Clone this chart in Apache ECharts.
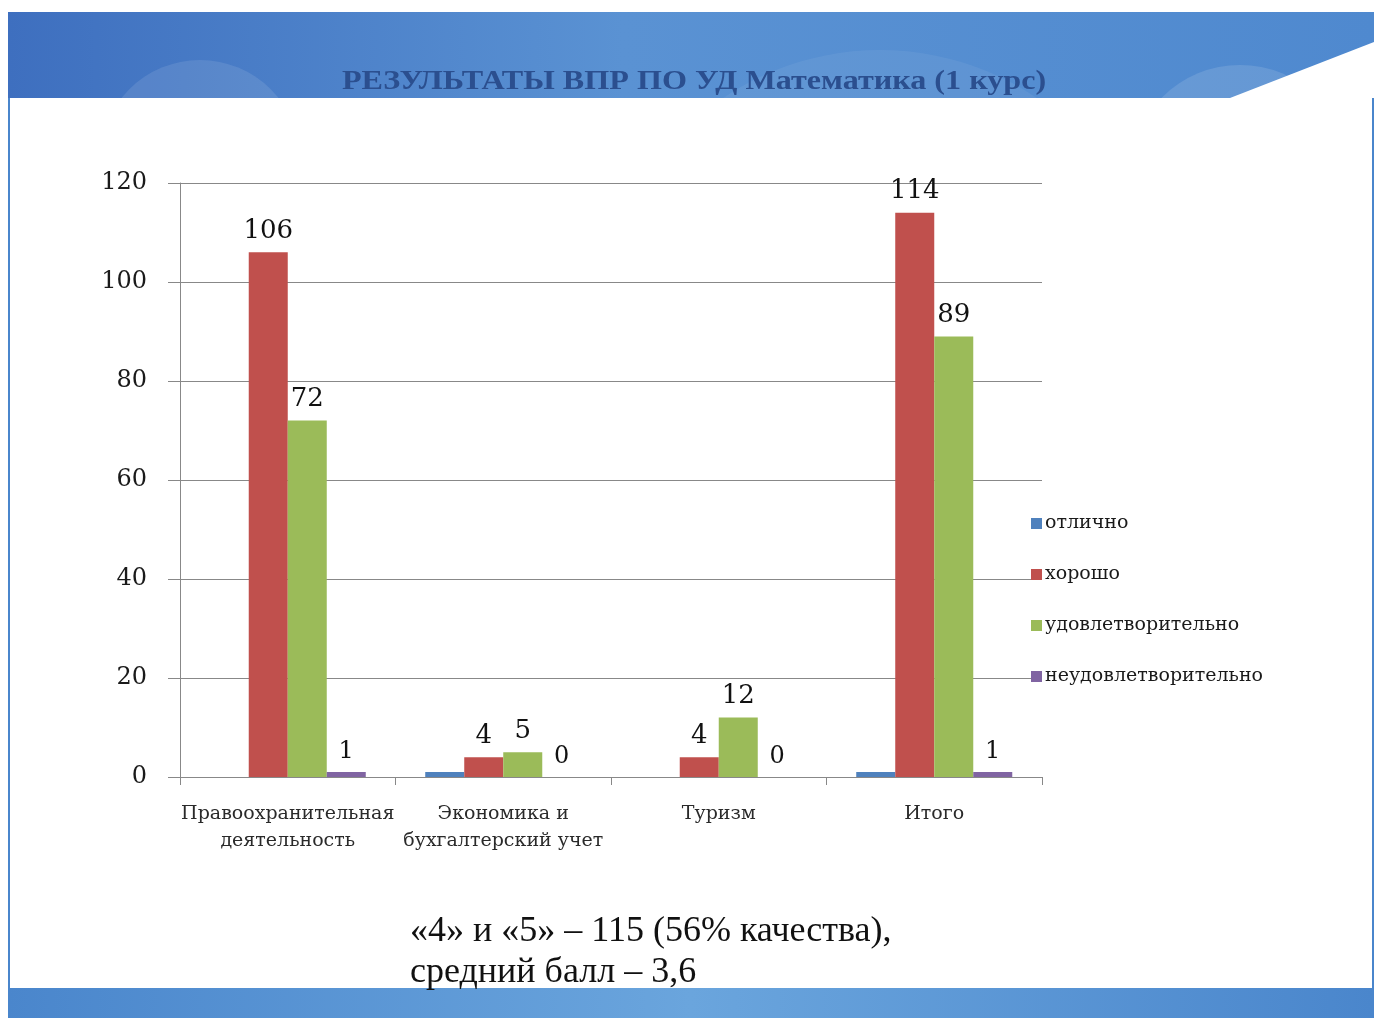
<!DOCTYPE html>
<html><head><meta charset="utf-8">
<script src="https://cdn.jsdelivr.net/npm/echarts@6/dist/echarts.min.js"></script>
<style>html,body{margin:0;padding:0;background:#fff}#c{width:1381px;height:1018px}</style>
</head><body><div id="c"></div>
<script>
const categories = ['Правоохранительная\nдеятельность', 'Экономика и\nбухгалтерский учет', 'Туризм', 'Итого'];
const seriesNames = ['отлично', 'хорошо', 'удовлетворительно', 'неудовлетворительно'];
const excellent = [null, 1, null, 1];
const good = [106, 4, 4, 114];
const satisfactory = [72, 5, 12, 89];
const unsatisfactory = [1, 0, 0, 1];
const yTicks = [0, 20, 40, 60, 80, 100, 120];
const titleText = 'РЕЗУЛЬТАТЫ ВПР ПО УД Математика (1 курс)';
const noteLine1 = '«4» и «5» – 115 (56% качества),';
const noteLine2 = 'средний балл – 3,6';

const colors = ['#4f81bd', '#c0504d', '#9bbb59', '#8064a2'];
const serif = '"Liberation Serif", "DejaVu Serif", serif';
const dserif = '"DejaVu Serif", "Liberation Serif", serif';
const labelStyle = { show: true, position: 'top', distance: 8, color: '#111', fontFamily: dserif, fontSize: 26 };

const chart = echarts.init(document.getElementById('c'), null, { renderer: 'canvas' });
chart.setOption({
  animation: false,
  backgroundColor: '#fff',
  color: colors,
  grid: { left: 180, right: 339, top: 183, bottom: 241 },
  legend: {
    orient: 'vertical', left: 1031, top: 514, padding: 0,
    icon: 'rect', itemWidth: 11, itemHeight: 11, itemGap: 32,
    textStyle: { fontFamily: dserif, fontSize: 19, color: '#1a1a1a', lineHeight: 19, padding: [0, 0, 0, -2] },
    data: seriesNames
  },
  xAxis: {
    type: 'category', data: categories,
    axisLine: { lineStyle: { color: '#888' } },
    axisTick: { show: true, length: 8, lineStyle: { color: '#888' } },
    axisLabel: { interval: 0, fontFamily: dserif, fontSize: 19, color: '#2a2a2a', lineHeight: 27, margin: 24 }
  },
  yAxis: {
    type: 'value', min: 0, max: 120, interval: 20,
    axisLine: { show: true, lineStyle: { color: '#888' } },
    axisTick: { show: true, length: 12, lineStyle: { color: '#888' } },
    splitLine: { lineStyle: { color: '#888' } },
    axisLabel: { fontFamily: dserif, fontSize: 24, color: '#1a1a1a', margin: 33,
      formatter: v => yTicks.includes(v) ? String(v) : '' }
  },
  series: [
    { name: seriesNames[0], type: 'bar', data: excellent, barGap: '0%', barCategoryGap: '27.6%' },
    { name: seriesNames[1], type: 'bar', data: good, barGap: '0%', barCategoryGap: '27.6%', label: labelStyle },
    { name: seriesNames[2], type: 'bar', data: satisfactory, barGap: '0%', barCategoryGap: '27.6%', label: labelStyle },
    { name: seriesNames[3], type: 'bar', data: unsatisfactory, barGap: '0%', barCategoryGap: '27.6%', label: Object.assign({}, labelStyle, { fontSize: 24 }) }
  ],
  graphic: [
    { type: 'rect', z: -10, shape: { x: 8, y: 12, width: 1366, height: 86 },
      style: { fill: new echarts.graphic.LinearGradient(0, 0, 1, 0, [
        { offset: 0, color: '#3e6fbf' }, { offset: 0.45, color: '#5a92d3' }, { offset: 1, color: '#4f89cf' }]) } },
    { type: 'circle', z: -9, shape: { cx: 200, cy: 160, r: 100 }, style: { fill: 'rgba(255,255,255,0.10)' } },
    { type: 'circle', z: -9, shape: { cx: 1240, cy: 175, r: 110 }, style: { fill: 'rgba(255,255,255,0.12)' } },
    { type: 'circle', z: -9, shape: { cx: 880, cy: 330, r: 280 }, style: { fill: 'rgba(255,255,255,0.06)' } },
    { type: 'rect', z: -8, shape: { x: 8, y: 98, width: 1366, height: 890 }, style: { fill: '#fff' } },
    { type: 'polygon', z: -8, shape: { points: [[1230, 98], [1374, 42], [1374, 98]] }, style: { fill: '#fff' } },
    { type: 'rect', z: -7, shape: { x: 8, y: 98, width: 2, height: 890 }, style: { fill: '#4a86cc' } },
    { type: 'rect', z: -7, shape: { x: 1372, y: 98, width: 2, height: 890 }, style: { fill: '#4a86cc' } },
    { type: 'rect', z: -10, shape: { x: 8, y: 988, width: 1366, height: 30 },
      style: { fill: new echarts.graphic.LinearGradient(0, 0, 1, 0, [
        { offset: 0, color: '#4a86cc' }, { offset: 0.5, color: '#6aa5dd' }, { offset: 1, color: '#4a86cc' }]) } },
    { type: 'text', z: 5, x: 694, y: 82, scaleX: 1.19,
      style: { text: titleText, fontFamily: serif, fontWeight: 'bold', fontSize: 27, fill: '#2b4f8f',
        align: 'center', verticalAlign: 'middle' } },
    { type: 'text', z: 5, x: 410, y: 932,
      style: { text: noteLine1, fontFamily: serif, fontSize: 36, fill: '#111', verticalAlign: 'middle' } },
    { type: 'text', z: 5, x: 410, y: 973,
      style: { text: noteLine2, fontFamily: serif, fontSize: 36, fill: '#111', verticalAlign: 'middle' } }
  ]
});
</script></body></html>
